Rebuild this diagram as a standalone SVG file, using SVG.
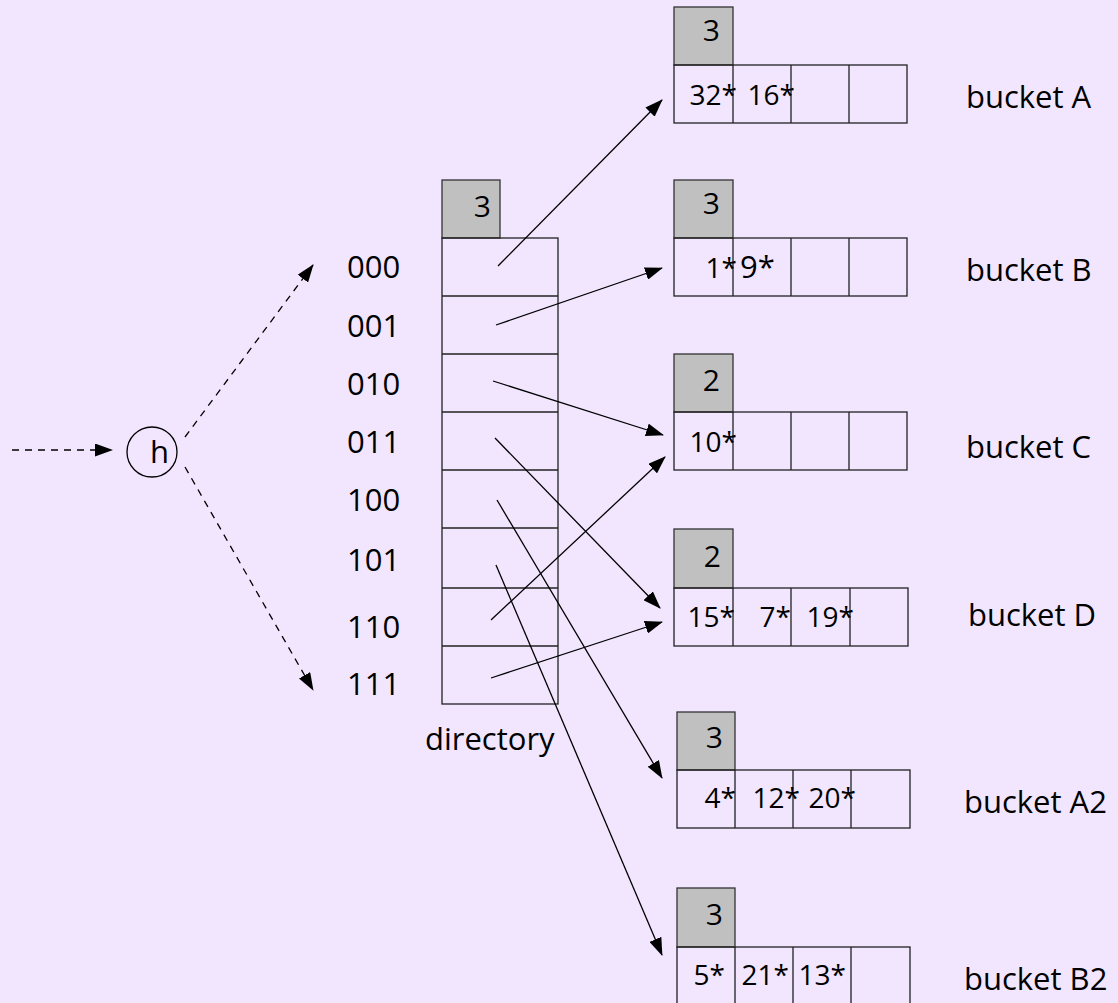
<svg xmlns="http://www.w3.org/2000/svg" width="1118" height="1003" viewBox="0 0 1118 1003">
<style>
text{font-family:"Open Sans","Noto Sans","Liberation Sans",sans-serif;font-size:31px;fill:#000}
.n{font-size:28px;text-anchor:end}
.k{font-size:30px;text-anchor:end}
.g{fill:#c0c0c0;stroke:#333;stroke-width:1.3}
.c{fill:none;stroke:#222;stroke-width:1.3}
.a{stroke:#000;stroke-width:1.3;fill:none;marker-end:url(#ah)}
.d{stroke:#000;stroke-width:1.3;fill:none;stroke-dasharray:7,6;marker-end:url(#ah)}
</style>
<defs>
<marker id="ah" viewBox="0 0 18 13" refX="17" refY="6.5" markerWidth="18" markerHeight="13" markerUnits="userSpaceOnUse" orient="auto">
<path d="M0,0L18,6.5L0,13z" fill="#000"/>
</marker>
</defs>
<rect width="1118" height="1003" fill="#f1e6fe"/>

<g id="hash">
<circle cx="152" cy="452" r="25" fill="none" stroke="#000" stroke-width="1.3"/>
<text x="150" y="463" font-size="30">h</text>
</g>

<g id="directory">
<rect class="g" x="442" y="180" width="58" height="58"/>
<text x="491" y="217" class="k">3</text>
<rect class="c" x="442" y="238" width="116" height="466"/>
<path class="c" d="M442,296H558M442,354H558M442,412H558M442,470H558M442,528H558M442,588H558M442,646H558"/>
<text x="347" y="278">000</text>
<text x="347" y="337">001</text>
<text x="347" y="395">010</text>
<text x="347" y="453">011</text>
<text x="347" y="511">100</text>
<text x="347" y="571">101</text>
<text x="347" y="638">110</text>
<text x="347" y="695">111</text>
<text x="425" y="750">directory</text>
</g>

<g id="bucketA">
<rect class="g" x="674" y="7" width="59" height="58"/>
<text x="720" y="41" class="k">3</text>
<rect class="c" x="674" y="65" width="233" height="58"/>
<path class="c" d="M733,65V123M791,65V123M849,65V123"/>
<text x="737" y="105" class="n">32*</text>
<text x="795" y="105" class="n">16*</text>
<text x="966" y="108">bucket A</text>
</g>

<g id="bucketB">
<rect class="g" x="674" y="180" width="59" height="58"/>
<text x="720" y="214" class="k">3</text>
<rect class="c" x="674" y="238" width="233" height="58"/>
<path class="c" d="M733,238V296M791,238V296M849,238V296"/>
<text x="737" y="278" class="n">1*</text>
<text x="740" y="278" font-size="28">9*</text>
<text x="966" y="281">bucket B</text>
</g>

<g id="bucketC">
<rect class="g" x="674" y="354" width="59" height="58"/>
<text x="720" y="391" class="k">2</text>
<rect class="c" x="674" y="412" width="233" height="58"/>
<path class="c" d="M733,412V470M791,412V470M849,412V470"/>
<text x="737" y="452" class="n">10*</text>
<text x="966" y="458">bucket C</text>
</g>

<g id="bucketD">
<rect class="g" x="674" y="529" width="59" height="59"/>
<text x="721" y="567" class="k">2</text>
<rect class="c" x="674" y="588" width="234" height="58"/>
<path class="c" d="M733,588V646M791,588V646M850,588V646"/>
<text x="735" y="627" class="n">15*</text>
<text x="791" y="627" class="n">7*</text>
<text x="854" y="627" class="n">19*</text>
<text x="968" y="626">bucket D</text>
</g>

<g id="bucketA2">
<rect class="g" x="677" y="712" width="58" height="58"/>
<text x="723" y="748" class="k">3</text>
<rect class="c" x="677" y="770" width="233" height="58"/>
<path class="c" d="M735,770V828M793,770V828M851,770V828"/>
<text x="736" y="808" class="n">4*</text>
<text x="800" y="808" class="n">12*</text>
<text x="856" y="808" class="n">20*</text>
<text x="964" y="813">bucket A2</text>
</g>

<g id="bucketB2">
<rect class="g" x="677" y="888" width="58" height="59"/>
<text x="723" y="925" class="k">3</text>
<rect class="c" x="677" y="947" width="233" height="60"/>
<path class="c" d="M735,947V1005M793,947V1005M851,947V1005"/>
<text x="725" y="985" class="n">5*</text>
<text x="789" y="985" class="n">21*</text>
<text x="846" y="985" class="n">13*</text>
<text x="964" y="990">bucket B2</text>
</g>

<g id="connectors">
<path class="d" d="M12,450H112"/>
<path class="d" d="M185,437L313,265"/>
<path class="d" d="M185,467L313,690"/>
<path class="a" d="M498,266L662,100"/>
<path class="a" d="M496,325L662,268"/>
<path class="a" d="M493,381L663,435"/>
<path class="a" d="M495,438L660,608"/>
<path class="a" d="M497,500L662,778"/>
<path class="a" d="M496,565L662,955"/>
<path class="a" d="M491,620L665,457"/>
<path class="a" d="M491,678L662,622"/>
</g>
</svg>
